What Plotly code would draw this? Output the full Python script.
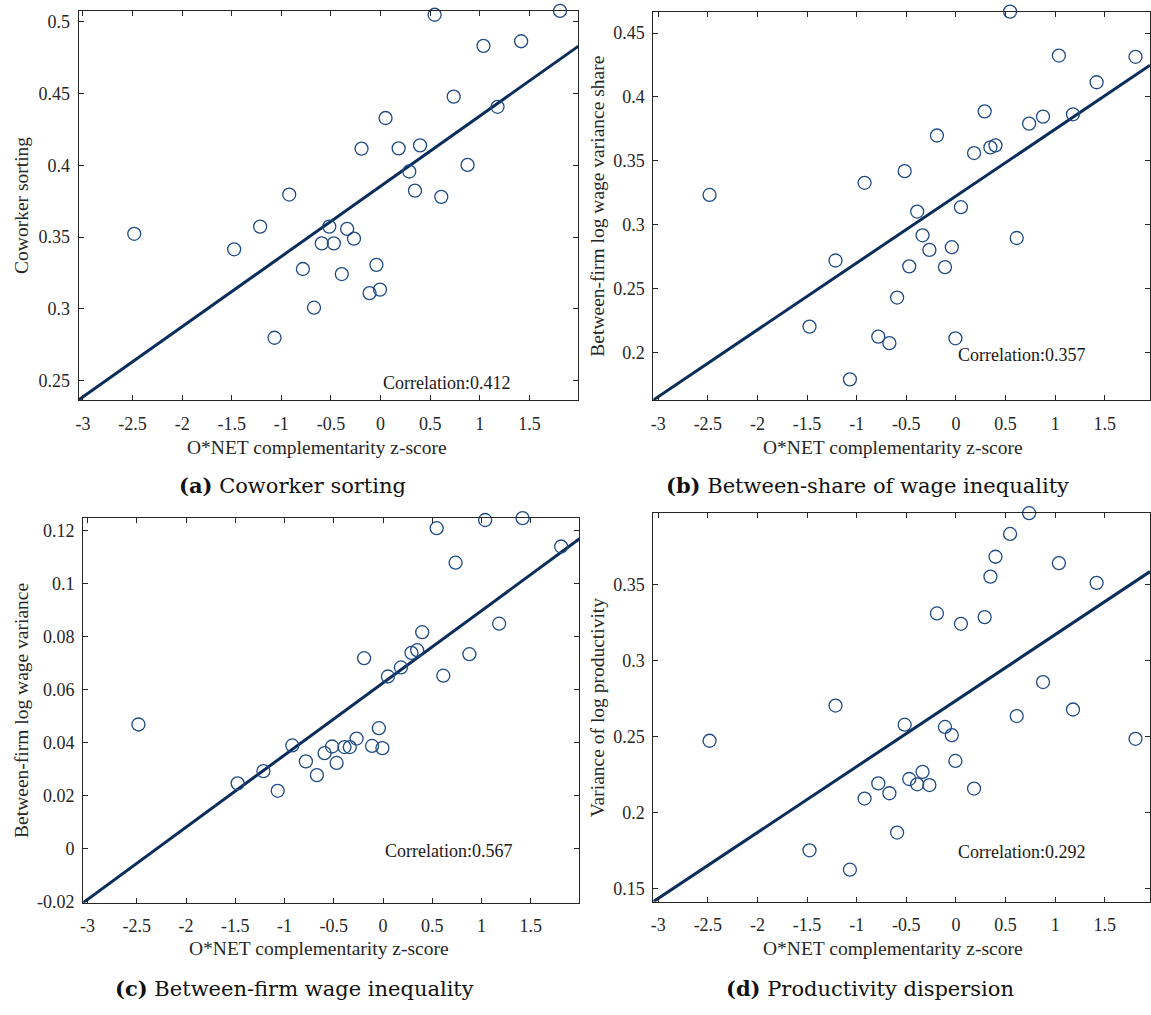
import plotly.graph_objects as go

# O*NET complementarity z-score (shared x for all four panels)
z_score = [-2.483, -1.476, -1.214, -1.069, -0.921, -0.783, -0.671, -0.593, -0.517, -0.471,
           -0.391, -0.337, -0.268, -0.192, -0.111, -0.042, -0.006, 0.050, 0.182, 0.289,
           0.347, 0.398, 0.545, 0.612, 0.737, 0.877, 1.037, 1.179, 1.417, 1.809]

coworker_sorting = [0.3523, 0.3415, 0.3573, 0.2800, 0.3796, 0.3278, 0.3009, 0.3456, 0.3573, 0.3456,
                    0.3243, 0.3557, 0.3489, 0.4115, 0.3110, 0.3307, 0.3135, 0.4328, 0.4117, 0.3956,
                    0.3823, 0.4138, 0.5046, 0.3780, 0.4477, 0.4002, 0.4830, 0.4406, 0.4862, 0.5073]

between_share = [0.3233, 0.2202, 0.2720, 0.1790, 0.3328, 0.2124, 0.2073, 0.2430, 0.3419, 0.2674,
                 0.3103, 0.2917, 0.2803, 0.3698, 0.2668, 0.2824, 0.2111, 0.3137, 0.3561, 0.3887,
                 0.3605, 0.3621, 0.4668, 0.2896, 0.3791, 0.3846, 0.4324, 0.3864, 0.4115, 0.4314]

between_var = [0.0469, 0.0247, 0.0293, 0.0219, 0.0390, 0.0330, 0.0278, 0.0361, 0.0386, 0.0324,
               0.0384, 0.0384, 0.0416, 0.0719, 0.0388, 0.0455, 0.0380, 0.0650, 0.0684, 0.0739,
               0.0749, 0.0817, 0.1209, 0.0653, 0.1079, 0.0734, 0.1240, 0.0849, 0.1247, 0.1140]

prod_var = [0.2472, 0.1750, 0.2704, 0.1622, 0.2091, 0.2191, 0.2126, 0.1867, 0.2578, 0.2220,
            0.2185, 0.2267, 0.2180, 0.3311, 0.2563, 0.2509, 0.2339, 0.3243, 0.2157, 0.3287,
            0.3554, 0.3685, 0.3835, 0.2635, 0.3972, 0.2859, 0.3643, 0.2678, 0.3513, 0.2485]

# Fitted line end points (y at the left and right x limits)
x_lim_left = [-3.045, 1.995]
x_lim_right = [-3.05, 1.955]
fit_a = [0.2367, 0.4828]
fit_b = [0.1628, 0.4248]
fit_c = [-0.0203, 0.1169]
fit_d = [0.1411, 0.3587]

correlations = ["Correlation:0.412", "Correlation:0.357", "Correlation:0.567", "Correlation:0.292"]

x_ticks = [-3, -2.5, -2, -1.5, -1, -0.5, 0, 0.5, 1, 1.5]
x_tick_text = ["-3", "-2.5", "-2", "-1.5", "-1", "-0.5", "0", "0.5", "1", "1.5"]
y_ticks_a = [0.25, 0.3, 0.35, 0.4, 0.45, 0.5]
y_text_a = ["0.25", "0.3", "0.35", "0.4", "0.45", "0.5"]
y_ticks_b = [0.2, 0.25, 0.3, 0.35, 0.4, 0.45]
y_text_b = ["0.2", "0.25", "0.3", "0.35", "0.4", "0.45"]
y_ticks_c = [-0.02, 0, 0.02, 0.04, 0.06, 0.08, 0.1, 0.12]
y_text_c = ["-0.02", "0", "0.02", "0.04", "0.06", "0.08", "0.1", "0.12"]
y_ticks_d = [0.15, 0.2, 0.25, 0.3, 0.35]
y_text_d = ["0.15", "0.2", "0.25", "0.3", "0.35"]

y_titles = ["Coworker sorting", "Between-firm log wage variance share",
            "Between-firm log wage variance", "Variance of log productivity"]
captions = ["<b>(a)</b> Coworker sorting", "<b>(b)</b> Between-share of wage inequality",
            "<b>(c)</b> Between-firm wage inequality", "<b>(d)</b> Productivity dispersion"]
x_title = "O*NET complementarity z-score"

W, H = 1151, 1015
AXC = "#262626"
MARK = "#1f4b85"
LINE = "#0b2d5c"
SERIF = "'Liberation Serif', 'Times New Roman', Times, serif"
CAPTION_FONT = "'DejaVu Serif', serif"

# pixel boxes of each plot area: left, right, top, bottom
boxes = [(75.7, 577, 11, 404), (652, 1150, 11.7, 404),
         (80.3, 578, 523.3, 911.7), (652, 1150, 518.3, 910.7)]

panels = [
    dict(y=coworker_sorting, fit=fit_a, xr=x_lim_left, yt=y_ticks_a, ytt=y_text_a, corr_y=0.2487),
    dict(y=between_share, fit=fit_b, xr=x_lim_right, yt=y_ticks_b, ytt=y_text_b, corr_y=0.1982),
    dict(y=between_var, fit=fit_c, xr=x_lim_left, yt=y_ticks_c, ytt=y_text_c, corr_y=-0.0009),
    dict(y=prod_var, fit=fit_d, xr=x_lim_right, yt=y_ticks_d, ytt=y_text_d, corr_y=0.1741),
]

# label positions in pixels
x_title_cx = [315, 892, 317, 892]
x_title_cy = [451.5, 451.5, 958, 958]
y_title_cx = [18.5, 596.4, 18.5, 596.4]
caption_cx = [290, 867, 292, 869]
caption_cy = [490.5, 490.5, 998.5, 998.5]

fig = go.Figure()
annotations = []


def px_x(v):
    return v / W


def px_y(v):
    return 1 - v / H


for i, p in enumerate(panels):
    n = "" if i == 0 else str(i + 1)
    xa, ya = "x" + n, "y" + n
    l, r, t, b = boxes[i]
    fig.add_trace(go.Scatter(x=p["xr"], y=p["fit"], mode="lines",
                             line=dict(color=LINE, width=3), xaxis=xa, yaxis=ya,
                             showlegend=False, hoverinfo="skip"))
    fig.add_trace(go.Scatter(x=z_score, y=p["y"], mode="markers", cliponaxis=False,
                             marker=dict(symbol="circle-open", size=13, color=MARK,
                                         line=dict(color=MARK, width=1.3)),
                             xaxis=xa, yaxis=ya, showlegend=False))
    common = dict(showline=True, linecolor=AXC, linewidth=1, mirror="ticks", ticks="inside",
                  ticklen=5, tickwidth=1, tickcolor=AXC, showgrid=False, zeroline=False,
                  tickfont=dict(family=SERIF, size=18, color=AXC), tickmode="array")
    fig.update_layout(**{
        "xaxis" + n: dict(domain=[px_x(l), px_x(r)], range=p["xr"], tickvals=x_ticks,
                          ticktext=x_tick_text, anchor=ya, ticklabelstandoff=7, **common),
        "yaxis" + n: dict(domain=[px_y(b), px_y(t)], range=[p["fit"][0], max(p["y"])],
                          tickvals=p["yt"], ticktext=p["ytt"], anchor=xa,
                          ticklabelstandoff=4, **common),
    })
    annotations.append(dict(xref=xa, yref=ya, x=0, y=p["corr_y"], text=correlations[i],
                            xanchor="left", yanchor="middle", showarrow=False,
                            font=dict(family=SERIF, size=18, color="#1a1a1a")))
    annotations.append(dict(xref="paper", yref="paper", x=px_x(x_title_cx[i]),
                            y=px_y(x_title_cy[i]), text=x_title, showarrow=False,
                            xanchor="center", yanchor="middle",
                            font=dict(family=SERIF, size=19.5, color=AXC)))
    annotations.append(dict(xref="paper", yref="paper", x=px_x(y_title_cx[i]),
                            y=px_y((t + b) / 2), text=y_titles[i], showarrow=False,
                            textangle=-90, xanchor="center", yanchor="middle",
                            font=dict(family=SERIF, size=19.5, color=AXC)))
    annotations.append(dict(xref="paper", yref="paper", x=px_x(caption_cx[i]),
                            y=px_y(caption_cy[i]), text=captions[i], showarrow=False,
                            xanchor="center", yanchor="middle",
                            font=dict(family=CAPTION_FONT, size=21, color="#111111")))

fig.update_layout(width=W, height=H, margin=dict(l=0, r=0, t=0, b=0),
                  paper_bgcolor="white", plot_bgcolor="white", annotations=annotations)

fig.write_html("out.html")
